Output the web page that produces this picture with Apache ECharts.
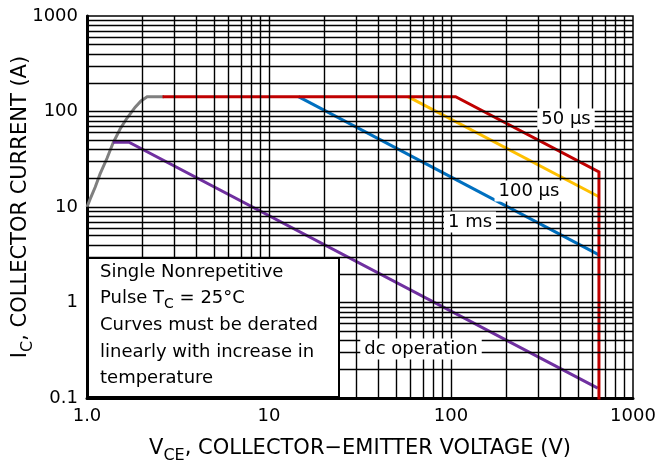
<!DOCTYPE html>
<html>
<head>
<meta charset="utf-8">
<script src="https://cdn.jsdelivr.net/npm/echarts@6.0.0/dist/echarts.min.js"></script>
<style>
  body { margin: 0; background: #fff; }
  #soaChart { width: 659px; height: 464px; }
</style>
</head>
<body>
<div id="soaChart"></div>
<script>
// tick labels
const xTickLabels = { 1: '1.0', 10: '10', 100: '100', 1000: '1000' };
const yTickLabels = { 0.1: '0.1', 1: '1', 10: '10', 100: '100', 1000: '1000' };

// log paper grid lines (values, not pixels)
const xGridValues = [2, 3, 4, 5, 6, 7, 8, 9, 10, 20, 30, 40, 50, 60, 70, 80, 90, 100,
  200, 300, 400, 500, 600, 700, 800, 900];
const yGridValues = [0.2, 0.3, 0.4, 0.5, 0.6, 0.7, 0.8, 0.9, 1, 2, 3, 4, 5, 6, 7, 8, 9, 10,
  20, 30, 40, 50, 60, 70, 80, 90, 100, 200, 300, 400, 500, 600, 700, 800, 900];

// curves (V in volts, I in amps)
const limitV = [1.0, 1.04, 1.11, 1.18, 1.29, 1.39, 1.52, 1.66, 1.84, 1.98, 2.14, 2.65];
const limitI = [10, 12.1, 16.2, 22.2, 32.6, 46.8, 65.6, 85.5, 111, 129, 143, 143];
const pulse50V = [2.6, 106, 650, 650];
const pulse50I = [143, 143, 23.3, 0.09];
const pulse100V = [58, 650];
const pulse100I = [143, 12.8];
const pulse1msV = [14.5, 650];
const pulse1msI = [143, 3.15];
const dcV = [1.39, 1.7, 640];
const dcI = [47.6, 47.6, 0.127];

const font = 'DejaVu Sans';
const colors = ['#7F7F7F', '#7030A0', '#0070C0', '#FFC000', '#C00000'];

function pairs(xs, ys) {
  return xs.map(function (x, i) { return [x, ys[i]]; });
}

function curve(name, xs, ys, color) {
  return {
    name: name,
    type: 'line',
    z: 3,
    silent: true,
    showSymbol: false,
    symbol: 'none',
    animation: false,
    lineStyle: { color: color, width: 3, cap: 'butt', join: 'miter' },
    data: pairs(xs, ys)
  };
}

var rich = {
  m: { fontFamily: font, fontSize: 18, color: '#000', lineHeight: 26 },
  s: { fontFamily: font, fontSize: 14, color: '#000', lineHeight: 14, verticalAlign: 'bottom' }
};
// axis titles are a little larger than the other text
var titleRich = {
  m: { fontFamily: font, fontSize: 21, color: '#000', lineHeight: 30 },
  s: { fontFamily: font, fontSize: 16, color: '#000', lineHeight: 16, verticalAlign: 'bottom' }
};

var gridLines = xGridValues.map(function (v) { return { xAxis: v }; })
  .concat(yGridValues.map(function (v) { return { yAxis: v }; }));

function noteText(y, text) {
  return {
    type: 'text', x: 100, y: y, z: 101,
    style: { text: text, rich: rich, font: '18px ' + font, fill: '#000', align: 'left', verticalAlign: 'middle' }
  };
}

function curveLabel(x, y, text) {
  return {
    type: 'text', x: x, y: y, z: 100,
    style: {
      text: text, fontFamily: font, fontSize: 18, fill: '#000',
      backgroundColor: '#fff', padding: [2, 4, 1, 4],
      align: 'center', verticalAlign: 'middle'
    }
  };
}

var chartDom = document.getElementById('soaChart');
var myChart = echarts.init(chartDom, null, { renderer: 'canvas' });
var option = {
  animation: false,
  backgroundColor: '#fff',
  grid: {
    left: 87, right: 26, top: 16, bottom: 66,
    outerBoundsMode: 'none',
    containLabel: false,
    show: true, borderColor: '#000', borderWidth: 1.5, backgroundColor: 'transparent'
  },
  xAxis: {
    type: 'log', logBase: 10, min: 1, max: 1000,
    name: '{m|V}{s|CE}{m|, COLLECTOR\u2212EMITTER VOLTAGE (V)}',
    nameLocation: 'middle', nameGap: 36,
    nameMoveOverlap: false,
    nameTextStyle: { rich: titleRich },
    axisLine: { show: true, lineStyle: { color: '#000', width: 3 } },
    axisTick: { show: false },
    splitLine: { show: false },
    axisLabel: {
      margin: 9, color: '#000', fontFamily: font, fontSize: 18,
      formatter: function (v) { return xTickLabels[Number(v.toPrecision(3))] || ''; }
    }
  },
  yAxis: {
    type: 'log', logBase: 10, min: 0.1, max: 1000,
    name: '{m|I}{s|C}{m|, COLLECTOR CURRENT (A)}',
    nameLocation: 'middle', nameRotate: 90, nameGap: 51,
    nameMoveOverlap: false,
    nameTextStyle: { rich: titleRich },
    axisLine: { show: true, lineStyle: { color: '#000', width: 3 } },
    axisTick: { show: false },
    splitLine: { show: false },
    axisLabel: {
      margin: 9, color: '#000', fontFamily: font, fontSize: 18,
      formatter: function (v) { return yTickLabels[Number(v.toPrecision(3))] || ''; }
    }
  },
  series: [
    {
      name: 'grid',
      type: 'line',
      z: 1,
      silent: true,
      data: [],
      markLine: {
        silent: true,
        animation: false,
        symbol: ['none', 'none'],
        label: { show: false },
        emphasis: { disabled: true },
        lineStyle: { color: '#000', width: 1.4, type: 'solid' },
        data: gridLines
      }
    },
    curve('limit', limitV, limitI, colors[0]),
    curve('dc operation', dcV, dcI, colors[1]),
    curve('1 ms', pulse1msV, pulse1msI, colors[2]),
    curve('100 µs', pulse100V, pulse100I, colors[3]),
    curve('50 µs', pulse50V, pulse50I, colors[4])
  ],
  graphic: [
    {
      type: 'rect', z: 100,
      shape: { x: 88, y: 258, width: 251, height: 139 },
      style: { fill: '#fff', stroke: '#000', lineWidth: 2 }
    },
    noteText(272, '{m|Single Nonrepetitive}'),
    noteText(298, '{m|Pulse T}{s|C}{m| = 25°C}'),
    noteText(325, '{m|Curves must be derated}'),
    noteText(352, '{m|linearly with increase in}'),
    noteText(378, '{m|temperature}'),
    curveLabel(566, 119, '50 \u03bcs'),
    curveLabel(529, 191, '100 \u03bcs'),
    curveLabel(470, 222, '1 ms'),
    curveLabel(421, 349, 'dc operation')
  ]
};
myChart.setOption(option);
</script>
</body>
</html>
